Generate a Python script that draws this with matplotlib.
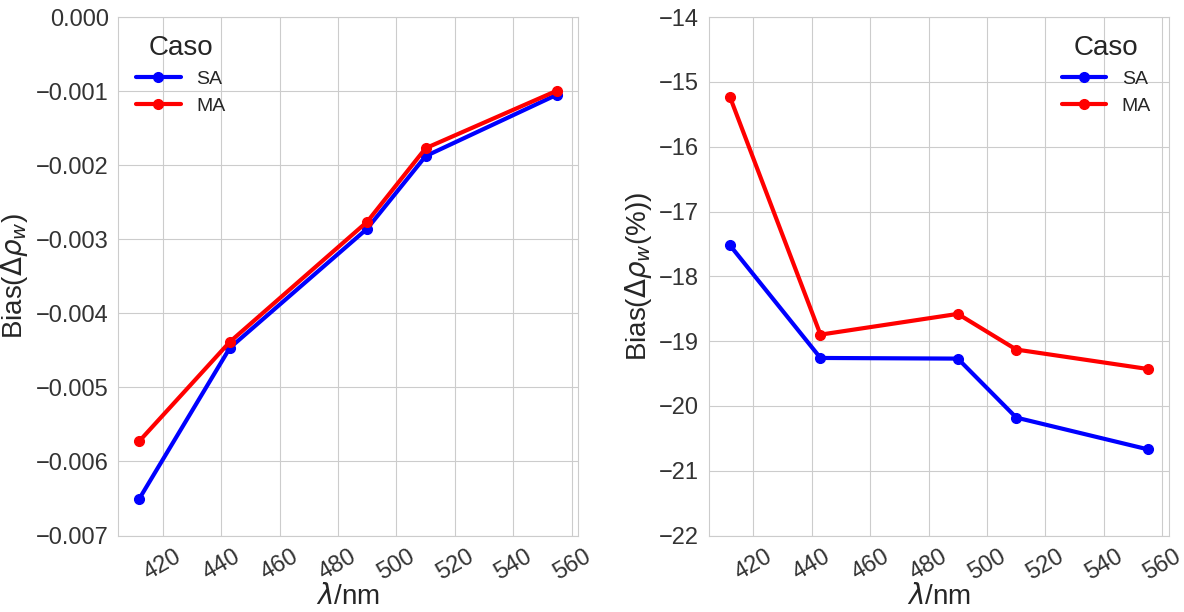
import matplotlib
matplotlib.use("Agg")
import matplotlib.pyplot as plt
import seaborn as sns

sns.set_style("whitegrid")
plt.rcParams['font.family'] = ['Liberation Sans', 'DejaVu Sans']
plt.rcParams['mathtext.fontset'] = 'dejavusans'

wavelengths = [412, 443, 490, 510, 555]

# Bias of delta rho_w (absolute)
bias_sa = [-0.006504, -0.004466, -0.002856, -0.001877, -0.001046]
bias_ma = [-0.005726, -0.004385, -0.002763, -0.001770, -0.000992]

# Bias of delta rho_w (%)
bias_pct_sa = [-17.52, -19.26, -19.27, -20.18, -20.67]
bias_pct_ma = [-15.23, -18.90, -18.58, -19.13, -19.43]

fig, (ax1, ax2) = plt.subplots(1, 2, figsize=(11.84, 6.12), dpi=100)
fig.subplots_adjust(left=0.1, right=0.987, top=0.972, bottom=0.125, wspace=0.285)

ax1.plot(wavelengths, bias_sa, color="blue", marker="o", lw=3, ms=7, label="SA")
ax1.plot(wavelengths, bias_ma, color="red", marker="o", lw=3, ms=7, label="MA")
ax1.set_ylim(-0.007, 0.0)
ax1.set_yticks([-0.007, -0.006, -0.005, -0.004, -0.003, -0.002, -0.001, 0.0])
ax1.set_yticklabels(["\u22120.007", "\u22120.006", "\u22120.005", "\u22120.004",
                     "\u22120.003", "\u22120.002", "\u22120.001", "0.000"])
ax1.set_ylabel(r'Bias($\Delta\rho_w$)', fontsize=20)
ax1.legend(title="Caso", loc="upper left", fontsize=14, title_fontsize=20,
           frameon=False, handlelength=2.3)

ax2.plot(wavelengths, bias_pct_sa, color="blue", marker="o", lw=3, ms=7, label="SA")
ax2.plot(wavelengths, bias_pct_ma, color="red", marker="o", lw=3, ms=7, label="MA")
ax2.set_ylim(-22, -14)
ax2.set_ylabel(r'Bias($\Delta\rho_w$(%))', fontsize=20)
ax2.legend(title="Caso", loc="upper right", fontsize=14, title_fontsize=20,
           frameon=False, handlelength=2.3)

for ax in (ax1, ax2):
    ax.set_xticks([420, 440, 460, 480, 500, 520, 540, 560])
    ax.tick_params(axis="both", labelsize=17, colors="#333333")
    ax.tick_params(axis="x", rotation=30)
    ax.set_xlabel(r'$\lambda$/nm', fontsize=20, labelpad=0)

plt.savefig("out.png")
